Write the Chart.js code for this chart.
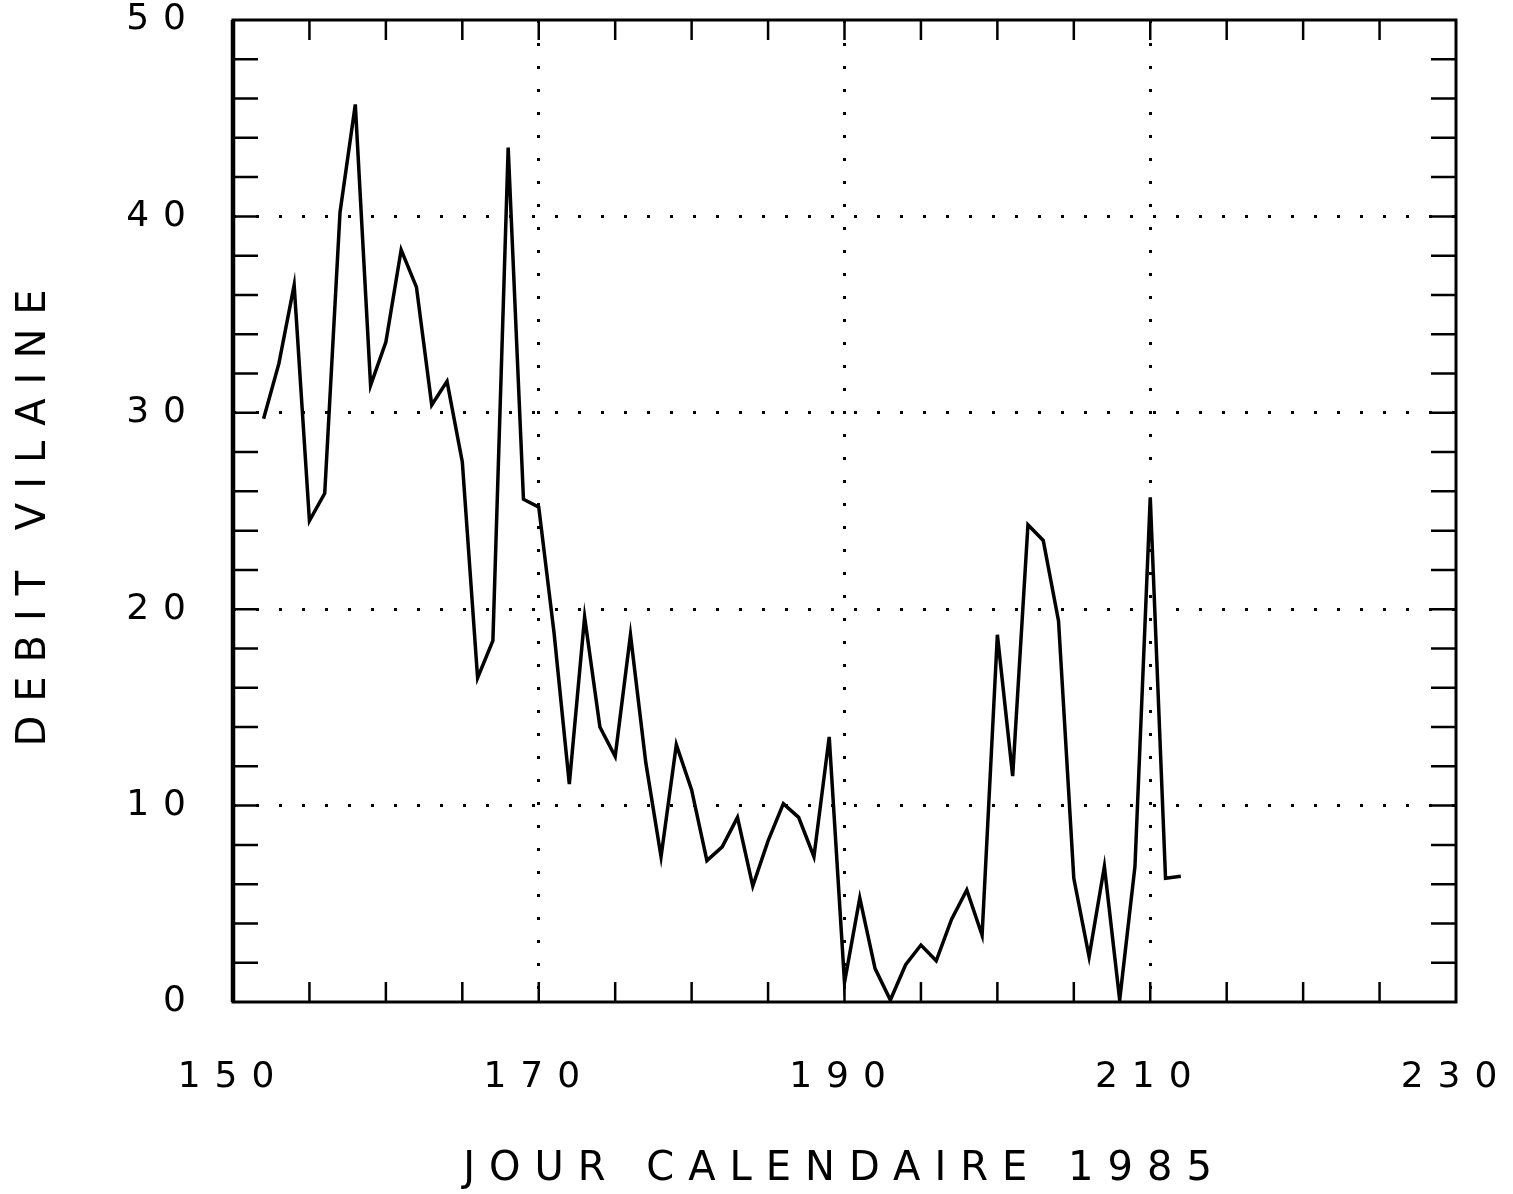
<!DOCTYPE html>
<html>
<head>
<meta charset="utf-8">
<script src="https://cdn.jsdelivr.net/npm/chart.js@4.4.1/dist/chart.umd.min.js"></script>
<style>
  html, body { margin: 0; padding: 0; background: #fff; }
  #wrap { width: 1513px; height: 1194px; }
</style>
</head>
<body>
<div id="wrap"><canvas id="debit" width="1513" height="1194"></canvas></div>
<script>
// jour calendaire 1985, one value per day
const days = [
  152, 153, 154, 155, 156, 157, 158, 159, 160, 161,
  162, 163, 164, 165, 166, 167, 168, 169, 170, 171,
  172, 173, 174, 175, 176, 177, 178, 179, 180, 181,
  182, 183, 184, 185, 186, 187, 188, 189, 190, 191,
  192, 193, 194, 195, 196, 197, 198, 199, 200, 201,
  202, 203, 204, 205, 206, 207, 208, 209, 210, 211,
  212
];
const debit = [
  29.7, 32.5, 36.5, 24.5, 25.9, 40.2, 45.7, 31.4, 33.6, 38.3,
  36.4, 30.4, 31.6, 27.5, 16.5, 18.4, 43.5, 25.6, 25.2, 18.8,
  11.1, 19.6, 14.0, 12.5, 18.7, 12.2, 7.4, 13.1, 10.8, 7.2,
  7.9, 9.4, 5.9, 8.2, 10.1, 9.4, 7.4, 13.5, 1.0, 5.3,
  1.7, 0.1, 1.9, 2.9, 2.1, 4.2, 5.7, 3.4, 18.7, 11.5,
  24.3, 23.5, 19.4, 6.3, 2.3, 6.9, 0.1, 6.9, 25.7, 6.3,
  6.4
];
const xTicks = [150, 170, 190, 210, 230];
const yTicks = [0, 10, 20, 30, 40, 50];
const xMinorStep = 5;
const yMinorStep = 2;

const FAMILY = "'DejaVu Sans', sans-serif";
const SPACING = "14px";

// plotter style lettering: wide spacing on every text
const spacing = {
  id: "spacing",
  afterInit(chart) { chart.ctx.letterSpacing = SPACING; },
  beforeUpdate(chart) { chart.ctx.letterSpacing = SPACING; },
  beforeDraw(chart) { chart.ctx.letterSpacing = SPACING; }
};

// box round the plot and the small ticks pointing inward on all four sides
const frame = {
  id: "frame",
  afterDatasetsDraw(chart) {
    const { ctx, chartArea: a, scales: { x, y } } = chart;
    ctx.save();
    ctx.strokeStyle = "#000";
    ctx.lineWidth = 2.5;
    ctx.beginPath();
    for (let v = x.min + xMinorStep; v < x.max; v += xMinorStep) {
      const px = x.getPixelForValue(v);
      ctx.moveTo(px, a.bottom); ctx.lineTo(px, a.bottom - 20);
      ctx.moveTo(px, a.top); ctx.lineTo(px, a.top + 20);
    }
    for (let v = y.min + yMinorStep; v < y.max; v += yMinorStep) {
      const py = y.getPixelForValue(v);
      ctx.moveTo(a.left, py); ctx.lineTo(a.left + 25, py);
      ctx.moveTo(a.right, py); ctx.lineTo(a.right - 25, py);
    }
    ctx.stroke();
    ctx.lineWidth = 3;
    ctx.strokeRect(a.left, a.top, a.right - a.left, a.bottom - a.top);
    ctx.lineWidth = 4.5;
    ctx.beginPath();
    ctx.moveTo(a.left, a.top); ctx.lineTo(a.left, a.bottom);
    ctx.stroke();
    ctx.restore();
  }
};

function dottedColor(ctx, list) {
  const v = ctx.tick && ctx.tick.value;
  if (v === list[0] || v === list[list.length - 1]) return "rgba(0,0,0,0)";
  return "#000";
}

function noPadding(s) {
  s.paddingLeft = 0; s.paddingRight = 0;
  s.paddingTop = 0; s.paddingBottom = 0;
}

new Chart(document.getElementById("debit"), {
  type: "line",
  data: {
    datasets: [{
      data: days.map((d, i) => ({ x: d, y: debit[i] })),
      borderColor: "#000",
      borderWidth: 3.5,
      borderJoinStyle: "miter",
      pointRadius: 0,
      tension: 0,
      fill: false
    }]
  },
  options: {
    responsive: false,
    animation: false,
    layout: { padding: { top: 20, right: 57, left: 0, bottom: 0 } },
    plugins: {
      legend: { display: false },
      tooltip: { enabled: false }
    },
    scales: {
      x: {
        type: "linear",
        min: 150,
        max: 230,
        afterFit(s) { s.height = 192; noPadding(s); },
        afterBuildTicks(s) { s.ticks = xTicks.map(v => ({ value: v })); },
        ticks: {
          color: "#000",
          padding: 58,
          maxRotation: 0,
          autoSkip: false,
          font: { family: FAMILY, size: 36, lineHeight: 1 }
        },
        grid: {
          drawTicks: false,
          lineWidth: 3,
          color: ctx => dottedColor(ctx, xTicks)
        },
        border: { display: false, dash: [3, 20] },
        title: {
          display: true,
          text: "JOUR CALENDAIRE 1985",
          color: "#000",
          font: { family: FAMILY, size: 40 },
          padding: { top: 0, bottom: 0 }
        }
      },
      y: {
        min: 0,
        max: 50,
        afterFit(s) { s.width = 233; noPadding(s); },
        afterBuildTicks(s) { s.ticks = yTicks.map(v => ({ value: v })); },
        ticks: {
          color: "#000",
          padding: 33,
          font: { family: FAMILY, size: 36, lineHeight: 1 }
        },
        grid: {
          drawTicks: false,
          lineWidth: 3,
          color: ctx => dottedColor(ctx, yTicks)
        },
        border: { display: false, dash: [3, 20] },
        title: {
          display: true,
          text: "DEBIT VILAINE",
          color: "#000",
          font: { family: FAMILY, size: 40 },
          padding: { top: 11, bottom: 0 }
        }
      }
    }
  },
  plugins: [spacing, frame]
});
</script>
</body>
</html>
